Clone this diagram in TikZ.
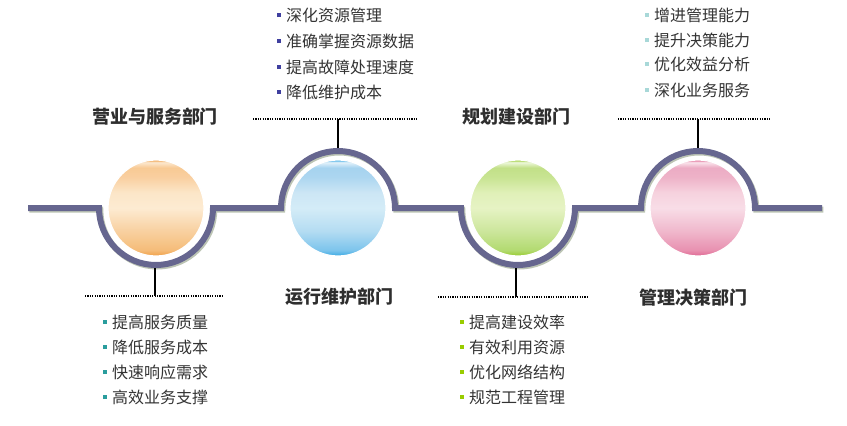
\documentclass[tikz,border=0pt]{standalone}
\usepackage{fontspec}
\setmainfont{Noto Sans CJK SC}
\usetikzlibrary{calc}
\definecolor{tlc}{HTML}{66668F}
\definecolor{tls}{HTML}{BCC4B4}
\definecolor{txt}{HTML}{333333}
\definecolor{bA}{HTML}{2A9D9D}
\definecolor{bB}{HTML}{3F3F9F}
\definecolor{bC}{HTML}{99CC00}
\definecolor{bD}{HTML}{A8D8D8}
\newcommand\defshade[9]{%
 \pgfdeclareverticalshading{#1}{100bp}{color(0bp)=(#2); color(25bp)=(#2); color(28bp)=(#3); color(38bp)=(#4);
 color(50bp)=(#5); color(58bp)=(#6); color(66bp)=(#7); color(71bp)=(#8); color(73.8bp)=(#9); color(75bp)=(#2); color(100bp)=(#2)}}
\definecolor{o1}{HTML}{F0A048}\definecolor{o2}{HTML}{F5BC78}\definecolor{o3}{HTML}{F8D0A0}\definecolor{o4}{HTML}{FDEBD2}
\definecolor{o5}{HTML}{FCE6C8}\definecolor{o6}{HTML}{F9CFA0}\definecolor{o7}{HTML}{F8CA94}\definecolor{o8}{HTML}{FCE8D0}
\definecolor{u1}{HTML}{3CAAE4}\definecolor{u2}{HTML}{7CC4EC}\definecolor{u3}{HTML}{B4DCF2}\definecolor{u4}{HTML}{D4ECF7}
\definecolor{u5}{HTML}{CCE6F5}\definecolor{u6}{HTML}{ACD6F0}\definecolor{u7}{HTML}{A6D3EF}\definecolor{u8}{HTML}{E4F2FB}
\definecolor{g1}{HTML}{98CC30}\definecolor{g2}{HTML}{B2DA70}\definecolor{g3}{HTML}{CCE69C}\definecolor{g4}{HTML}{E6F3C4}
\definecolor{g5}{HTML}{E0F0B8}\definecolor{g6}{HTML}{C8E492}\definecolor{g7}{HTML}{C2E088}\definecolor{g8}{HTML}{EEF8DC}
\definecolor{p1}{HTML}{E06A94}\definecolor{p2}{HTML}{E890B0}\definecolor{p3}{HTML}{F0B8CC}\definecolor{p4}{HTML}{F8DDE7}
\definecolor{p5}{HTML}{F6D2DE}\definecolor{p6}{HTML}{EEB2C8}\definecolor{p7}{HTML}{ECACC4}\definecolor{p8}{HTML}{FAE4EC}
\defshade{orb1}{o1}{o2}{o3}{o4}{o5}{o6}{o7}{o8}
\defshade{orb2}{u1}{u2}{u3}{u4}{u5}{u6}{u7}{u8}
\defshade{orb3}{g1}{g2}{g3}{g4}{g5}{g6}{g7}{g8}
\defshade{orb4}{p1}{p2}{p3}{p4}{p5}{p6}{p7}{p8}
\newcommand\itm[2]{{\color{#1}\rule[4pt]{4pt}{4pt}}\hspace{5pt}#2}
\begin{document}
\begin{tikzpicture}[x=1pt,y=-1pt,
  tline/.style={line width=6pt,tlc,line join=miter},
  tshadow/.style={line width=6pt,tls},
  orb/.style={circle,minimum size=96pt,inner sep=0pt,draw=white,line width=1.2pt},
  ttl/.style={font=\fontsize{18}{18}\selectfont\bfseries,text=txt!90!black,inner sep=0pt},
  item/.style={font=\fontsize{16}{16}\selectfont,text=txt,inner sep=0pt,anchor=west,text height=12pt,text depth=2pt},
  conn/.style={line width=1.3pt,black},
  dots/.style={line width=1.3pt,black,dash pattern=on 1.1pt off 1.3pt}]
\useasboundingbox (0,0) rectangle (847,426);
% timeline shadow
\draw[tshadow] ([shift={(1.3,1.5)}]28,208) -- ++(71,0) arc(180:0:57) -- ++(68,0) arc(180:360:57) -- ++(66,0) arc(180:0:57) -- ++(66,0) arc(180:360:57) -- ++(67,0);
% timeline
\draw[tline] (28,208) -- (99,208) arc(180:0:57) -- (281,208) arc(180:360:57) -- (461,208) arc(180:0:57) -- (641,208) arc(180:360:57) -- (822,208);
% orbs
\node[orb,shading=orb1,shade] (c1) at (156,208) {};
\node[orb,shading=orb2,shade] (c2) at (338,208) {};
\node[orb,shading=orb3,shade] (c3) at (518,208) {};
\node[orb,shading=orb4,shade] (c4) at (698,208) {};
% connectors
\coordinate (a1) at (155,268); \coordinate (e1) at (155,296);
\coordinate (a2) at (338,148); \coordinate (e2) at (338,119);
\coordinate (a3) at (516,268); \coordinate (e3) at (516,297);
\coordinate (a4) at (698,148); \coordinate (e4) at (698,119);
\draw[conn] (a1) -- (e1);
\draw[conn] (a2) -- (e2);
\draw[conn] (a3) -- (e3);
\draw[conn] (a4) -- (e4);
\coordinate (d1l) at (85,296); \coordinate (d1r) at (223,296);
\coordinate (d2l) at (253,119); \coordinate (d2r) at (417,119);
\coordinate (d3l) at (438,297); \coordinate (d3r) at (587,297);
\coordinate (d4l) at (618,119); \coordinate (d4r) at (770,119);
\draw[dots] (d1l) -- (d1r);
\draw[dots] (d2l) -- (d2r);
\draw[dots] (d3l) -- (d3r);
\draw[dots] (d4l) -- (d4r);
% titles
\node[ttl] (t1) at (155,117) {营业与服务部门};
\node[ttl] (t2) at (339,297) {运行维护部门};
\node[ttl] (t3) at (516,117) {规划建设部门};
\node[ttl] (t4) at (693,298) {管理决策部门};
% list 1
\node[item] (l11) at (103,323) {\itm{bA}{提高服务质量}};
\node[item] (l12) at (103,348) {\itm{bA}{降低服务成本}};
\node[item] (l13) at (103,373) {\itm{bA}{快速响应需求}};
\node[item] (l14) at (103,398) {\itm{bA}{高效业务支撑}};
% list 2
\node[item] (l21) at (277,16) {\itm{bB}{深化资源管理}};
\node[item] (l22) at (277,42) {\itm{bB}{准确掌握资源数据}};
\node[item] (l23) at (277,68) {\itm{bB}{提高故障处理速度}};
\node[item] (l24) at (277,93) {\itm{bB}{降低维护成本}};
% list 3
\node[item] (l31) at (460,323) {\itm{bC}{提高建设效率}};
\node[item] (l32) at (460,348) {\itm{bC}{有效利用资源}};
\node[item] (l33) at (460,373) {\itm{bC}{优化网络结构}};
\node[item] (l34) at (460,398) {\itm{bC}{规范工程管理}};
% list 4
\node[item] (l41) at (645,16) {\itm{bD}{增进管理能力}};
\node[item] (l42) at (645,41) {\itm{bD}{提升决策能力}};
\node[item] (l43) at (645,65) {\itm{bD}{优化效益分析}};
\node[item] (l44) at (645,91) {\itm{bD}{深化业务服务}};
\end{tikzpicture}
\end{document}
